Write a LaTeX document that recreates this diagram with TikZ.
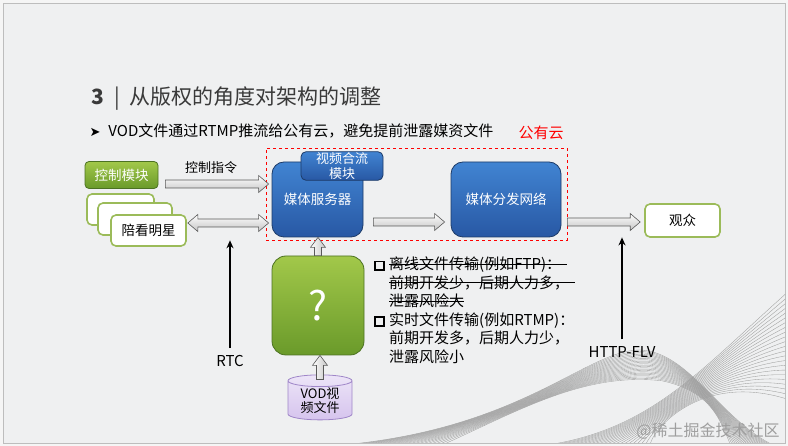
\documentclass[tikz,border=0pt]{standalone}
\usepackage{fontspec}
\setmainfont{Noto Sans CJK SC}
\newfontfamily\symfont{DejaVu Sans}
\usepackage{xcolor}
\usetikzlibrary{shapes.geometric,arrows.meta,calc}

\definecolor{slidebg}{HTML}{EFF0F1}
\definecolor{slideline}{HTML}{BDBDBD}
\definecolor{titlegray}{HTML}{3A3A3A}
\definecolor{bluetop}{HTML}{4184D2}
\definecolor{bluebot}{HTML}{2858A4}
\definecolor{blueline}{HTML}{1D3B68}
\definecolor{greentop}{HTML}{A2C84A}
\definecolor{greenbot}{HTML}{6A9A2A}
\definecolor{greenline}{HTML}{4C7222}
\definecolor{softgreen}{HTML}{9BBB59}
\definecolor{lilac}{HTML}{D6C4EE}
\definecolor{lilacline}{HTML}{9F86C8}
\definecolor{arrowgray}{HTML}{C4C4C4}
\definecolor{arrowline}{HTML}{5A5A5A}

\newcommand{\qbox}{\makebox[15pt][l]{\setlength{\fboxrule}{1.7pt}\setlength{\fboxsep}{0pt}\raisebox{0.5pt}{\fbox{\rule{0pt}{7pt}\rule{7pt}{0pt}}}}}
\newlength{\strikelen}
\newcommand{\strikeout}[2][0pt]{\settowidth{\strikelen}{#2}\addtolength{\strikelen}{#1}\rlap{\rule[0.36em]{\strikelen}{0.9pt}}#2}

\tikzset{
  bluebox/.style={draw=blueline, line width=0.8pt, top color=bluetop, bottom color=bluebot,
    rounded corners=12pt, text=white, font=\fontsize{13.5}{15}\selectfont},
  greenbox/.style={draw=greenline, line width=0.8pt, top color=greentop, bottom color=greenbot,
    text=white, font=\fontsize{13.5}{15}\selectfont},
  whitebox/.style={draw=softgreen, line width=1.6pt, fill=white, rounded corners=5pt,
    font=\fontsize{13.5}{15}\selectfont},
  fatright/.style={draw=arrowline, line width=0.6pt, top color=white, bottom color=arrowgray,
    to path={let \p1=(\tikztostart), \p2=(\tikztotarget) in
      (\x1,\y1+4pt) -- (\x2-10pt,\y1+4pt) -- (\x2-10pt,\y1+8.5pt) -- (\x2,\y1)
      -- (\x2-10pt,\y1-8.5pt) -- (\x2-10pt,\y1-4pt) -- (\x1,\y1-4pt) -- cycle}},
  fatboth/.style={draw=arrowline, line width=0.6pt, top color=white, bottom color=arrowgray,
    to path={let \p1=(\tikztostart), \p2=(\tikztotarget) in
      (\x1,\y1) -- (\x1+10pt,\y1+8.5pt) -- (\x1+10pt,\y1+4pt) -- (\x2-10pt,\y1+4pt)
      -- (\x2-10pt,\y1+8.5pt) -- (\x2,\y1) -- (\x2-10pt,\y1-8.5pt) -- (\x2-10pt,\y1-4pt)
      -- (\x1+10pt,\y1-4pt) -- (\x1+10pt,\y1-8.5pt) -- cycle}},
  fatup/.style={draw=arrowline, line width=0.6pt, left color=white, right color=arrowgray,
    to path={let \p1=(\tikztostart), \p2=(\tikztotarget) in
      (\x1-3.5pt,\y1) -- (\x1-3.5pt,\y2-10pt) -- (\x1-7.5pt,\y2-10pt) -- (\x1,\y2)
      -- (\x1+7.5pt,\y2-10pt) -- (\x1+3.5pt,\y2-10pt) -- (\x1+3.5pt,\y1) -- cycle}},
  thinarrow/.style={line width=1.6pt, -{Stealth[length=8pt,width=7pt]}},
  wave/.style={draw=white!62!black, line width=0.35pt},
}

\begin{document}
\begin{tikzpicture}[x=1pt, y=-1pt]
\fill[white!96!black] (0,0) rectangle (788,446);
\draw[slideline, fill=slidebg, line width=0.8pt] (3,3) rectangle (785,443);

\begin{scope}
\clip (3,3) rectangle (785,443);
\foreach \i in {0,...,22}
  \draw[wave] (330+5*\i,446) .. controls (520,432-\i) and (585,350+\i) .. (640+\i,350+1.4*\i)
    .. controls (690+\i,352+1.8*\i) and (720,420) .. (775-2*\i,446);
\foreach \i in {0,...,22}
  \draw[wave] (540+5*\i,446) .. controls (650,432) and (700,370) .. (790,290+5*\i);
\end{scope}

\node[anchor=west, text=titlegray, font=\fontsize{21}{24}\selectfont] (title) at (88,99)
  {\textbf{3}\hspace{10pt}|\hspace{10pt}从版权的角度对架构的调整};
\node[anchor=west, font=\fontsize{15}{18}\selectfont] (intro) at (86,131)
  {{\symfont\fontsize{13}{14}\selectfont ➤}\hspace{8pt}VOD文件通过RTMP推流给公有云，避免提前泄露媒资文件};
\node[text=red, font=\fontsize{15}{18}\selectfont] (pub) at (541,133) {公有云};

\node[draw=red, dashed, line width=0.6pt, minimum width=301pt, minimum height=92pt] (cloud) at (416.5,194) {};

\node[greenbox, rounded corners=4pt, minimum width=73pt, minimum height=27pt] (ctrl) at (121.5,175) {控制模块};
\node[font=\fontsize{13}{15}\selectfont] (cmd) at (211,168) {控制指令};
\node[whitebox, minimum width=67pt, minimum height=31pt] (star1) at (120.5,209.5) {};
\node[whitebox, minimum width=74pt, minimum height=32pt] (star2) at (135,219) {};
\node[whitebox, minimum width=75pt, minimum height=31pt] (star3) at (148.5,230.5) {陪看明星};

\node[bluebox, minimum width=91pt, minimum height=75pt] (ms) at (317.5,199.5) {媒体服务器};
\node[bluebox, rounded corners=5pt, minimum width=82pt, minimum height=28pt, inner sep=1pt,
  align=center, font=\fontsize{13}{14.5}\selectfont] (mix) at (342,166) {视频合流\\模块};
\node[bluebox, minimum width=110pt, minimum height=75pt] (cdn) at (506,199.5) {媒体分发网络};
\node[whitebox, minimum width=75pt, minimum height=33pt] (aud) at (682.5,220.5) {观众};

\node[greenbox, rounded corners=14pt, minimum width=92pt, minimum height=99pt,
  font=\fontsize{40}{44}\selectfont] (q) at (318,305.5) {?};
\node[cylinder, shape border rotate=90, aspect=0.3, draw=lilacline, line width=0.8pt,
  top color=white!55!lilac, bottom color=lilac, minimum width=64pt, minimum height=45pt,
  inner sep=0pt, align=center, font=\fontsize{13}{14}\selectfont] (vod) at (320,400.5) {VOD视\\频文件};

\node[inner sep=1pt, font=\fontsize{15}{18}\selectfont] (rtc) at (230,361) {RTC};
\node[inner sep=1pt, font=\fontsize{15}{18}\selectfont] (flv) at (622,352) {HTTP-FLV};

\node[anchor=north west, align=left, inner sep=0pt, font=\fontsize{15}{18.5}\selectfont] (notes) at (374,257)
  {\qbox\strikeout[6pt]{离线文件传输(例如FTP)：}\\
   \hspace*{15pt}\strikeout[6pt]{前期开发少，后期人力多，}\\
   \hspace*{15pt}\strikeout{泄露风险大}\\
   \qbox 实时文件传输(例如RTMP)：\\
   \hspace*{15pt}前期开发多，后期人力少，\\
   \hspace*{15pt}泄露风险小};

\node[text=white!62!black, font=\fontsize{16}{18}\selectfont] (mark) at (708,431) {@稀土掘金技术社区};

\draw[fatright] ([shift={(7pt,-9pt)}]ctrl.east) to ([xshift=-3pt]ms.west);
\draw[fatboth] ([shift={(1pt,7.5pt)}]star3.east) to ([xshift=-3pt]ms.west);
\draw[fatright] ([shift={(10pt,-22.5pt)}]ms.east) to ([xshift=-6pt]cdn.west);
\draw[fatright] ([shift={(6pt,-22.5pt)}]cdn.east) to ([xshift=-4pt]aud.west);
\draw[fatup] (q.north) to (ms.south);
\draw[fatup] ([yshift=-5pt]vod.north) to (q.south);
\draw[thinarrow] ([yshift=6pt]rtc.north) -- (rtc.north |- cloud.south);
\draw[thinarrow] ([yshift=6pt]flv.north) -- (flv.north |- cdn.south);
\end{tikzpicture}
\end{document}
